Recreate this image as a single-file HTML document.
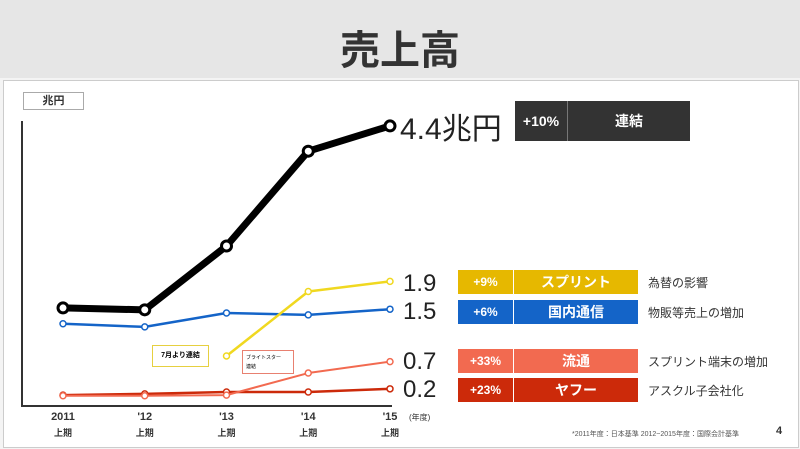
<!DOCTYPE html>
<html><head><meta charset="utf-8"><style>
body{margin:0;width:800px;height:449px;overflow:hidden;background:#f4f4f4;font-family:"Liberation Sans","Noto Sans CJK JP",sans-serif}
.hdr{position:absolute;left:0;top:0;width:800px;height:78px;background:#e6e6e6}
.main{position:absolute;left:3px;top:80px;width:794px;height:366px;background:#fff;border:1px solid #ccc}
.t{position:absolute;white-space:nowrap}
.box{position:absolute;color:#fff;font-weight:bold;display:flex;align-items:center}
.box span{display:flex;align-items:center;justify-content:center;height:100%}
</style></head><body>
<div class="hdr"></div>
<div class="t" style="left:0;width:800px;text-align:center;top:18px;font-size:40px;font-weight:bold;color:#333">売上高</div>
<div class="main"></div>
<svg id="c" width="800" height="449" style="position:absolute;left:0;top:0"></svg>
<div class="t" style="left:23px;top:92px;width:59px;height:16px;border:1px solid #aaa;font-size:11px;font-weight:bold;text-align:center;line-height:16px;color:#333">兆円</div>
<div class="t" style="left:400px;top:104px;font-size:30px;color:#222">4.4兆円</div>
<div class="box" style="left:515px;top:101px;width:175px;height:40px;background:#333;font-size:14px"><span style="width:52px;border-right:1px solid #777">+10%</span><span style="flex:1">連結</span></div>
<div class="t" style="left:403px;top:270px;font-size:24px;color:#222">1.9</div>
<div class="t" style="left:403px;top:298px;font-size:24px;color:#222">1.5</div>
<div class="t" style="left:403px;top:348px;font-size:24px;color:#222">0.7</div>
<div class="t" style="left:403px;top:376px;font-size:24px;color:#222">0.2</div>
<div class="box" style="left:458px;top:270px;width:180px;height:24px;background:#e6b800;font-size:12px"><span style="width:55px;border-right:1px solid #fff">+9%</span><span style="flex:1;font-size:14px">スプリント</span></div>
<div class="box" style="left:458px;top:300px;width:180px;height:24px;background:#1464c8;font-size:12px"><span style="width:55px;border-right:1px solid #fff">+6%</span><span style="flex:1;font-size:14px">国内通信</span></div>
<div class="box" style="left:458px;top:349px;width:180px;height:24px;background:#f26a50;font-size:12px"><span style="width:55px;border-right:1px solid #fff">+33%</span><span style="flex:1;font-size:14px">流通</span></div>
<div class="box" style="left:458px;top:378px;width:180px;height:24px;background:#cc2a0a;font-size:12px"><span style="width:55px;border-right:1px solid #fff">+23%</span><span style="flex:1;font-size:14px">ヤフー</span></div>
<div class="t" style="left:648px;top:274px;font-size:12px;color:#333">為替の影響</div>
<div class="t" style="left:648px;top:304px;font-size:12px;color:#333">物販等売上の増加</div>
<div class="t" style="left:648px;top:353px;font-size:12px;color:#333">スプリント端末の増加</div>
<div class="t" style="left:648px;top:382px;font-size:12px;color:#333">アスクル子会社化</div>
<div class="t" style="left:572px;top:429px;font-size:7px;color:#555">*2011年度：日本基準 2012~2015年度：国際会計基準</div>
<div class="t" style="left:776px;top:425px;font-size:11px;font-weight:bold;color:#333">4</div>
<div class="t" style="left:152px;top:345px;width:55px;height:20px;border:1px solid #e6d040;font-size:7px;font-weight:bold;line-height:20px;text-align:center;background:#fff">7月より連結</div>
<div class="t" style="left:242px;top:350px;width:52px;height:24px;border:1px solid #e88070;font-size:5px;line-height:9px;padding:3px;box-sizing:border-box;background:#fff">ブライトスター<br>連結</div>
<script>
const categories=["2011","'12","'13","'14","'15"];
const total=[1.52,1.49,2.5,4.0,4.4];
const domestic=[1.27,1.22,1.44,1.41,1.5];
const sprint=[null,null,0.76,1.78,1.94];
const distribution=[0.13,0.13,0.14,0.49,0.67];
const yahoo=[0.14,0.16,0.19,0.19,0.24];
const NS="http://www.w3.org/2000/svg",svg=document.getElementById('c');
const X=i=>63+i*81.75, Y=v=>404-v*63.2;
function el(t,a){const e=document.createElementNS(NS,t);for(const k in a)e.setAttribute(k,a[k]);svg.appendChild(e);return e;}
const ax=el('path',{d:'M22,121 V406 H392',stroke:'#333','stroke-width':2,fill:'none'});


categories.forEach((c,i)=>{
 const t=el('text',{x:X(i),y:420,'text-anchor':'middle','font-size':11,'font-weight':'bold',fill:'#333'});t.textContent=c;
 
 
 const t2=el('text',{x:X(i),y:436,'text-anchor':'middle','font-size':9,'font-weight':'bold',fill:'#333','font-family':'Noto Sans CJK JP'});t2.textContent='上期';
 
 
});
const fy=el('text',{x:409,y:420,'font-size':8,fill:'#333'});fy.textContent='(年度)';


function series(vals,color,w,r,name){
 const pts=vals.map((v,i)=>v==null?null:[X(i),Y(v)]).filter(p=>p);
 const l=el('polyline',{points:pts.map(p=>p.join(',')).join(' '),stroke:color,'stroke-width':w,fill:'none','stroke-linejoin':'round'});
 
 
 pts.forEach(p=>{const c=el('circle',{cx:p[0],cy:p[1],r:r,fill:'#fff',stroke:color,'stroke-width':w>4?3:1.5});
 
 });
}
series(yahoo,'#cc2a0a',2.5,3,'yahoo');
series(distribution,'#f26a50',2,3,'distribution');
series(domestic,'#1464c8',2.5,3,'domestic');
series(sprint,'#f0d820',2.5,3,'sprint');
series(total,'#000',7,5,'total');
</script>
</body></html>
